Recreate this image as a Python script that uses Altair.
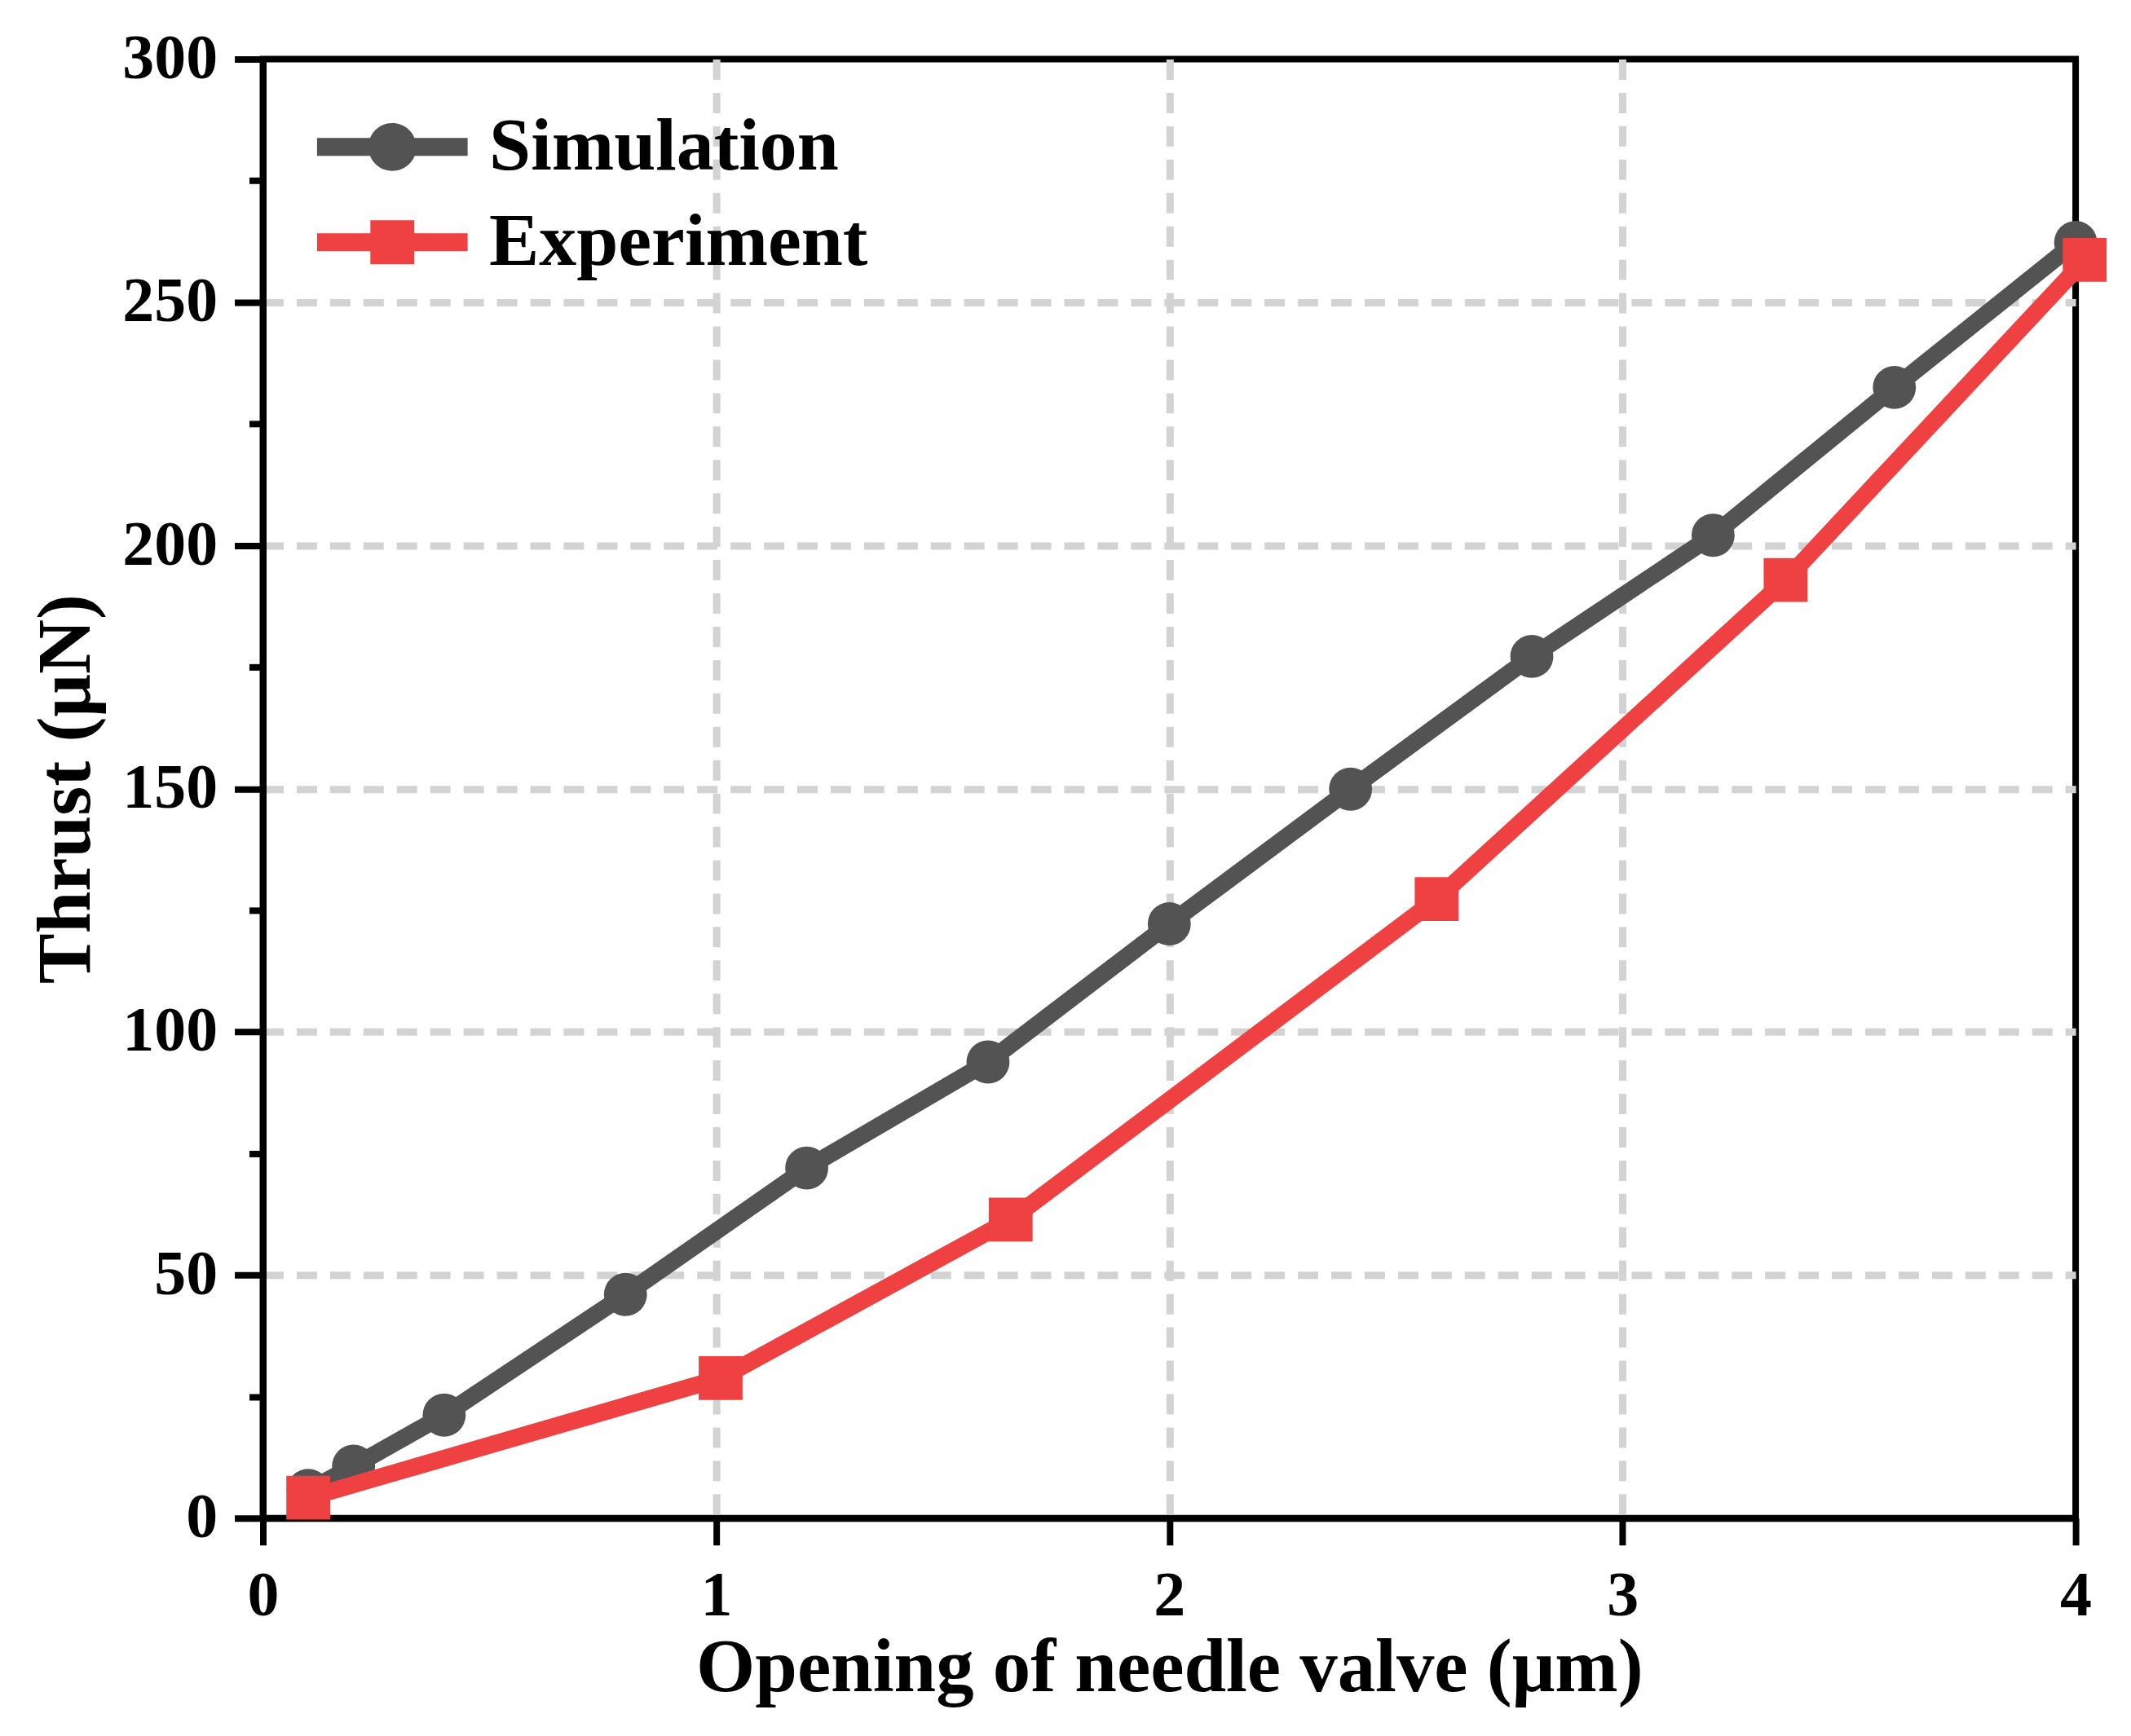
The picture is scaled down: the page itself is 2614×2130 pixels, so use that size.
import altair as alt
import pandas as pd

# ---- data ----
sim_x = [0.1, 0.2, 0.4, 0.8, 1.2, 1.6, 2.0, 2.4, 2.8, 3.2, 3.6, 4.0]
sim_y = [5.7, 10.7, 21.2, 46.0, 72.0, 93.8, 122.2, 149.9, 177.2, 202.1, 232.5, 262.3]
exp_x = [0.1, 1.01, 1.65, 2.59, 3.36, 4.02]
exp_y = [4.2, 28.8, 61.4, 127.3, 192.9, 258.7]
series_names = ["Simulation", "Experiment"]
series_colors = ["#535353", "#EF4142"]
x_ticks = [0, 0.5, 1, 1.5, 2, 2.5, 3, 3.5, 4]
y_ticks = [0, 25, 50, 75, 100, 125, 150, 175, 200, 225, 250, 275, 300]

df = pd.concat([
    pd.DataFrame({"x": sim_x, "y": sim_y, "series": series_names[0]}),
    pd.DataFrame({"x": exp_x, "y": exp_y, "series": series_names[1]}),
], ignore_index=True)

FONT = "Liberation Serif"
GRID = "#D3D3D3"

x_enc = alt.X(
    "x:Q",
    scale=alt.Scale(domain=[0, 4], nice=False, zero=False),
    axis=alt.Axis(
        title="Opening of needle valve (μm)",
        values=x_ticks,
        format="d",
        labelExpr="datum.value % 1 == 0 ? datum.label : ''",
        tickSize=alt.condition("datum.value % 1 == 0", alt.value(33), alt.value(15)),
        gridOpacity=alt.condition(
            "datum.value % 1 == 0 && datum.value > 0 && datum.value < 4",
            alt.value(1), alt.value(0)),
        labelFlush=False,
        labelOverlap=False,
        labelPadding=24,
        titlePadding=4,
    ),
)
y_enc = alt.Y(
    "y:Q",
    scale=alt.Scale(domain=[0, 300], nice=False),
    axis=alt.Axis(
        title="Thrust (μN)",
        values=y_ticks,
        labelExpr="datum.value % 50 == 0 ? datum.label : ''",
        tickSize=alt.condition("datum.value % 50 == 0", alt.value(35), alt.value(17)),
        gridOpacity=alt.condition(
            "datum.value % 50 == 0 && datum.value > 0 && datum.value < 300",
            alt.value(1), alt.value(0)),
        labelFlush=False,
        labelOverlap=False,
        labelPadding=21,
        titlePadding=20,
    ),
)

color_scale = alt.Scale(domain=series_names, range=series_colors)

u = 30.0  # legend symbol unit (px)
L = 92.5 / u
T = 11.0 / u
R = 29.5 / u
S = 27.0 / u
path_sim = (f"M{-L:.3f},{-T:.3f}H{L:.3f}V{T:.3f}H{-L:.3f}Z"
            f"M{R:.3f},0A{R:.3f},{R:.3f} 0 1,1 {-R:.3f},0A{R:.3f},{R:.3f} 0 1,1 {R:.3f},0Z")
path_exp = (f"M{-L:.3f},{-T:.3f}H{L:.3f}V{T:.3f}H{-L:.3f}Z"
            f"M{-S:.3f},{-S:.3f}H{S:.3f}V{S:.3f}H{-S:.3f}Z")

legend = alt.Legend(
    title=None,
    orient="none",
    legendX=113,
    legendY=62,
    padding=0,
    symbolSize=u * u * 4,
    symbolStrokeWidth=0,
    symbolOpacity=1,
    symbolType={"expr": f"datum.value === 'Simulation' ? '{path_sim}' : '{path_exp}'"},
    labelFont=FONT,
    labelFontSize=92,
    labelFontWeight="bold",
    labelColor="black",
    labelOffset=73,
    labelLimit=0,
    rowPadding=25,
)

base = alt.Chart(df)
sim = base.transform_filter(alt.datum.series == "Simulation")
exp = base.transform_filter(alt.datum.series == "Experiment")

sim_pts = sim.mark_point(filled=True, shape="circle", size=2800, opacity=1, strokeWidth=0).encode(
    x=x_enc, y=y_enc, color=alt.Color("series:N", scale=color_scale, legend=legend))
sim_line = sim.mark_line(strokeWidth=21).encode(
    x=x_enc, y=y_enc, color=alt.Color("series:N", scale=color_scale, legend=None))
exp_line = exp.mark_line(strokeWidth=21).encode(
    x=x_enc, y=y_enc, color=alt.Color("series:N", scale=color_scale, legend=None))
exp_pts = exp.mark_point(filled=True, shape="square", size=2900, opacity=1, strokeWidth=0).encode(
    x=x_enc, y=y_enc, color=alt.Color("series:N", scale=color_scale, legend=None))

chart = alt.layer(sim_pts, sim_line, exp_line, exp_pts).properties(
    width=2227,
    height=1793,
    autosize=alt.AutoSizeParams(type="none"),
    padding={"left": 315, "top": 63, "right": 60, "bottom": 240},
).configure(
    background="white",
).configure_view(
    stroke="black", strokeWidth=8, fill="white",
).configure_axis(
    domainColor="black", domainWidth=8,
    tickColor="black", tickWidth=8,
    labelFont=FONT, labelFontSize=78, labelFontWeight="bold", labelColor="black",
    titleFont=FONT, titleFontSize=93, titleFontWeight="bold", titleColor="black",
    gridColor=GRID, gridWidth=9, gridDash=[25, 16],
)

chart.save("out.html", embed_options={"renderer": "svg", "actions": False})
